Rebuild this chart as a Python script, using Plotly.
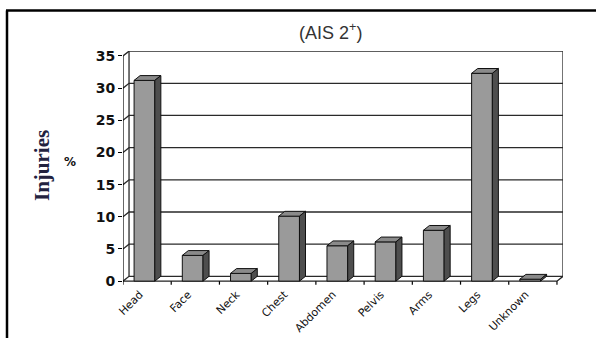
import plotly.graph_objects as go

# Share of injuries (AIS 2+) by body region, in percent
regions = ["Head", "Face", "Neck", "Chest", "Abdomen", "Pelvis", "Arms", "Legs", "Unknown"]
injury_pct = [31.2, 4.0, 1.2, 10.1, 5.5, 6.1, 7.9, 32.3, 0.3]
y_ticks = [0, 5, 10, 15, 20, 25, 30, 35]

# pseudo-3D geometry (data units)
DX, DY = 0.125, 0.75          # depth offset of the back wall
BAR_L, BAR_R = -0.27, 0.16    # front face extent around each category index
N = len(regions)
X0, X1 = -0.5, N - 0.5
Y_TOP = y_ticks[-1]

fig = go.Figure()

def add_lines(xs, ys, color="#2a2a2a", width=1.3):
    fig.add_trace(go.Scatter(x=xs, y=ys, mode="lines",
                             line=dict(color=color, width=width),
                             hoverinfo="skip", showlegend=False))

# back wall gridlines plus the little diagonals on the side wall
gx, gy = [], []
for v in y_ticks:
    gx += [X0, X0 + DX, X1 + DX, None]
    gy += [v, v + DY, v + DY, None]
add_lines(gx, gy)
# back wall edges
add_lines([X0 + DX, X0 + DX, None, X1 + DX, X1 + DX],
          [DY, Y_TOP + DY, None, DY, Y_TOP + DY])
# floor: front edge and right diagonal
add_lines([X0, X1, X1 + DX], [0, 0, DY], color="#222222")
# value axis line
add_lines([X0, X0], [0, Y_TOP], color="#000000", width=1.2)
# category boundary tick marks below the floor
tx, ty = [], []
for k in range(N + 1):
    tx += [X0 + k, X0 + k, None]
    ty += [0, -0.55, None]
add_lines(tx, ty, color="#000000", width=1.2)

# bars: front, top and side faces
fx, fy, topx, topy, sx, sy = [], [], [], [], [], []
for i, v in enumerate(injury_pct):
    l, r = i + BAR_L, i + BAR_R
    fx += [l, r, r, l, l, None]
    fy += [0, 0, v, v, 0, None]
    topx += [l, r, r + DX, l + DX, l, None]
    topy += [v, v, v + DY, v + DY, v, None]
    sx += [r, r + DX, r + DX, r, r, None]
    sy += [0, DY, v + DY, v, 0, None]

for xs, ys, col in [(fx, fy, "#9a9a9a"), (topx, topy, "#8a8a8a"), (sx, sy, "#4e4e4e")]:
    fig.add_trace(go.Scatter(x=xs, y=ys, mode="lines", fill="toself",
                             fillcolor=col, line=dict(color="#111111", width=1),
                             hoverinfo="skip", showlegend=False))

W, H = 596, 338
fig.update_layout(
    width=W, height=H,
    margin=dict(l=0, r=0, t=0, b=0),
    paper_bgcolor="white", plot_bgcolor="rgba(0,0,0,0)",
    xaxis=dict(domain=[123 / W, 563 / W], range=[X0, X1 + DX],
               tickvals=[i - 0.15 for i in range(N)], ticktext=regions,
               tickangle=-45, ticks="", showgrid=False, zeroline=False,
               showline=False, automargin=False,
               tickfont=dict(family="DejaVu Sans", size=11, color="#111111")),
    yaxis=dict(domain=[1 - 285 / H, 1 - 51 / H], range=[-0.6, Y_TOP + DY + 0.02],
               tickvals=y_ticks, ticks="outside", ticklen=4, tickcolor="#000000",
               tickwidth=1.2, showgrid=False, zeroline=False, showline=False,
               automargin=False,
               tickfont=dict(family="DejaVu Sans", size=14, color="#111111",
                             weight="bold")),
    shapes=[
        dict(type="line", xref="paper", yref="paper", x0=6 / W, x1=1,
             y0=1 - 10.5 / H, y1=1 - 10.5 / H, line=dict(color="black", width=2.5)),
        dict(type="line", xref="paper", yref="paper", x0=7 / W, x1=7 / W,
             y0=0, y1=1 - 10.5 / H, line=dict(color="black", width=2.5)),
    ],
    annotations=[
        dict(text="(AIS 2<sup>+</sup>)", xref="paper", yref="paper",
             x=331 / W, y=1 - 31 / H, showarrow=False, xanchor="center",
             yanchor="middle",
             font=dict(family="Liberation Sans", size=18, color="#333333")),
        dict(text="Injuries", xref="paper", yref="paper", x=42 / W, y=1 - 166 / H,
             textangle=-90, showarrow=False, xanchor="center", yanchor="middle",
             font=dict(family="Liberation Serif", size=21, color="#22223f",
                       weight="bold")),
        dict(text="%", xref="paper", yref="paper", x=70 / W, y=1 - 162 / H,
             showarrow=False, xanchor="center", yanchor="middle",
             font=dict(family="DejaVu Sans", size=12, color="#111111",
                       weight="bold")),
    ],
)

fig.write_html("out.html")
